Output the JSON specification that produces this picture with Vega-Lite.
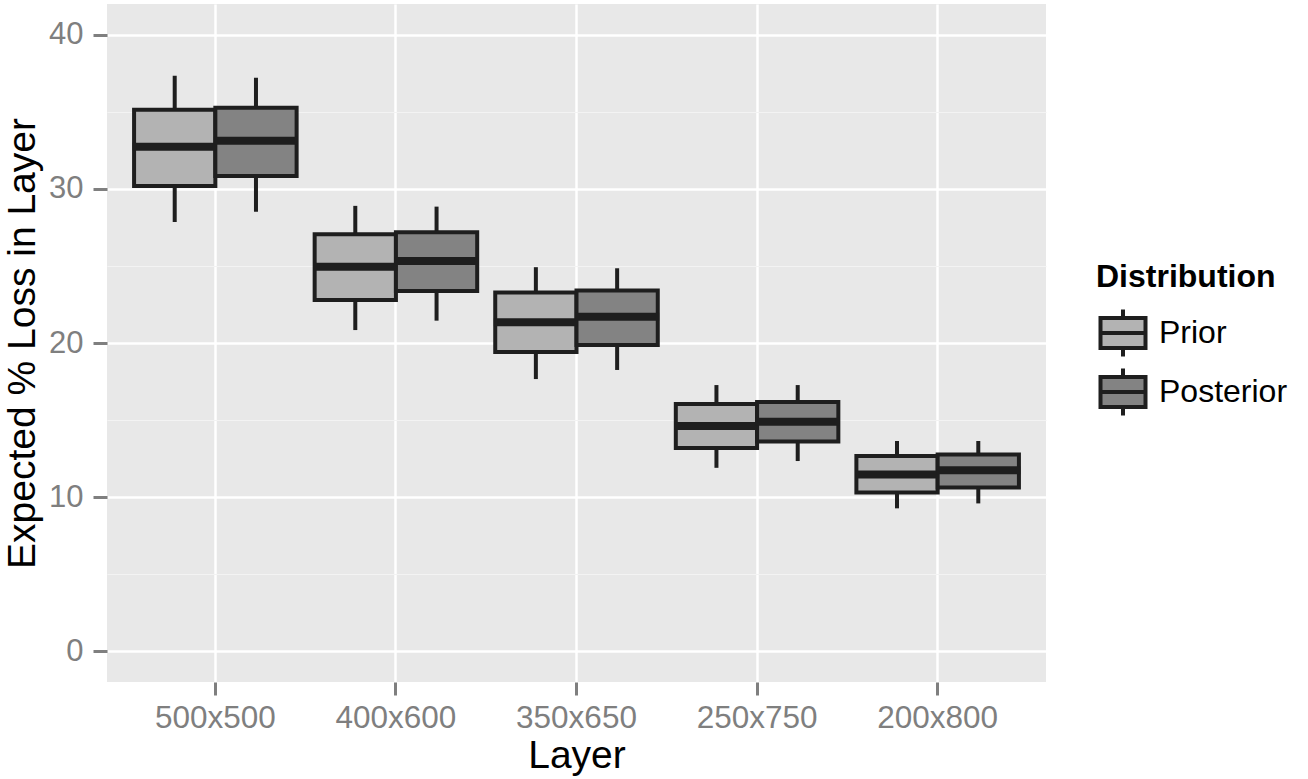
{
  "$schema": "https://vega.github.io/schema/vega-lite/v6.json",
  "width": 939,
  "height": 678,
  "padding": {"left": 3, "top": 4, "right": 0, "bottom": 0},
  "background": "white",
  "config": {
    "view": {"fill": "#e8e8e8", "stroke": null},
    "font": "Liberation Sans",
    "axis": {"labelFont": "Liberation Sans", "titleFont": "Liberation Sans", "domain": false, "tickColor": "#7f7f7f", "tickWidth": 3, "labelColor": "#7f7f7f", "labelFontSize": 31.5, "titleFontSize": 39, "titleColor": "black", "titleFontWeight": "normal"},
    "legend": {"labelFont": "Liberation Sans", "titleFont": "Liberation Sans"}
  },
  "data": {
    "values": [
      {"Layer": "500x500", "Distribution": "Prior", "lower": 27.86, "q1": 30.19, "median": 32.73, "q3": 35.13, "upper": 37.34},
      {"Layer": "500x500", "Distribution": "Posterior", "lower": 28.51, "q1": 30.84, "median": 33.12, "q3": 35.26, "upper": 37.21},
      {"Layer": "400x600", "Distribution": "Prior", "lower": 20.84, "q1": 22.79, "median": 24.95, "q3": 27.05, "upper": 28.9},
      {"Layer": "400x600", "Distribution": "Posterior", "lower": 21.45, "q1": 23.38, "median": 25.32, "q3": 27.18, "upper": 28.85},
      {"Layer": "350x650", "Distribution": "Prior", "lower": 17.66, "q1": 19.42, "median": 21.34, "q3": 23.28, "upper": 24.92},
      {"Layer": "350x650", "Distribution": "Posterior", "lower": 18.25, "q1": 19.87, "median": 21.71, "q3": 23.41, "upper": 24.85},
      {"Layer": "250x750", "Distribution": "Prior", "lower": 11.9, "q1": 13.18, "median": 14.61, "q3": 16.04, "upper": 17.27},
      {"Layer": "250x750", "Distribution": "Posterior", "lower": 12.34, "q1": 13.6, "median": 14.89, "q3": 16.17, "upper": 17.27},
      {"Layer": "200x800", "Distribution": "Prior", "lower": 9.27, "q1": 10.29, "median": 11.47, "q3": 12.66, "upper": 13.64},
      {"Layer": "200x800", "Distribution": "Posterior", "lower": 9.59, "q1": 10.62, "median": 11.75, "q3": 12.76, "upper": 13.64}
    ]
  },
  "encoding": {
    "x": {
      "field": "Layer",
      "type": "nominal",
      "sort": ["500x500", "400x600", "350x650", "250x750", "200x800"],
      "scale": {"paddingInner": 0, "paddingOuter": 0.1},
      "title": "Layer",
      "axis": {"labelAngle": 0, "bandPosition": 0.5, "grid": true, "gridColor": "white", "gridWidth": 2.5, "tickSize": 13, "labelPadding": 7, "titlePadding": 3}
    },
    "xOffset": {
      "field": "Distribution",
      "type": "nominal",
      "sort": ["Prior", "Posterior"],
      "scale": {"paddingInner": 0, "paddingOuter": 0.111}
    }
  },
  "layer": [
    {
      "mark": {"type": "rule", "stroke": "#1e1e1e", "strokeWidth": 4},
      "encoding": {
        "y": {
          "field": "lower",
          "type": "quantitative",
          "title": "Expected % Loss in Layer",
          "scale": {"domain": [-2, 42], "nice": false, "zero": false},
          "axis": {
            "values": [0, 5, 10, 15, 20, 25, 30, 35, 40],
            "labelExpr": "datum.value % 10 === 0 ? datum.label : ''",
            "labelOverlap": false,
            "labelFontSize": 31,
            "grid": true,
            "gridColor": {"condition": {"test": "datum.value % 10 === 0", "value": "white"}, "value": "#f3f3f3"},
            "gridWidth": {"condition": {"test": "datum.value % 10 === 0", "value": 2.5}, "value": 1.2},
            "tickOpacity": {"condition": {"test": "datum.value % 10 === 0", "value": 1}, "value": 0},
            "tickSize": 14,
            "labelPadding": 10,
            "titlePadding": 6
          }
        },
        "y2": {"field": "upper"}
      }
    },
    {
      "mark": {"type": "bar", "stroke": "#1e1e1e", "strokeWidth": 4, "opacity": 1},
      "encoding": {
        "y": {"field": "q1", "type": "quantitative", "title": "Expected % Loss in Layer"},
        "y2": {"field": "q3"},
        "fill": {
          "field": "Distribution",
          "type": "nominal",
          "sort": ["Prior", "Posterior"],
          "scale": {"domain": ["Prior", "Posterior"], "range": ["#b3b3b3", "#838383"]},
          "legend": {
            "orient": "none",
            "legendX": 989,
            "legendY": 258,
            "title": "Distribution",
            "titleFontSize": 32,
            "titleFontWeight": "bold",
            "titleColor": "black",
            "titlePadding": 12,
            "labelFontSize": 32,
            "labelColor": "black",
            "labelOffset": 9,
            "symbolType": "M-0.9,-0.6H0.9V0.6H-0.9Z M-0.9,0H0.9 M0,-0.6V-0.94 M0,0.6V0.94",
            "symbolSize": 2500,
            "symbolStrokeWidth": 4,
            "symbolStrokeColor": "#1e1e1e",
            "symbolOpacity": 1,
            "rowPadding": -5,
            "padding": 0
          }
        }
      }
    },
    {
      "mark": {"type": "tick", "color": "#1e1e1e", "thickness": 8, "size": 84, "opacity": 1},
      "encoding": {
        "y": {"field": "median", "type": "quantitative", "title": "Expected % Loss in Layer"}
      }
    }
  ]
}
